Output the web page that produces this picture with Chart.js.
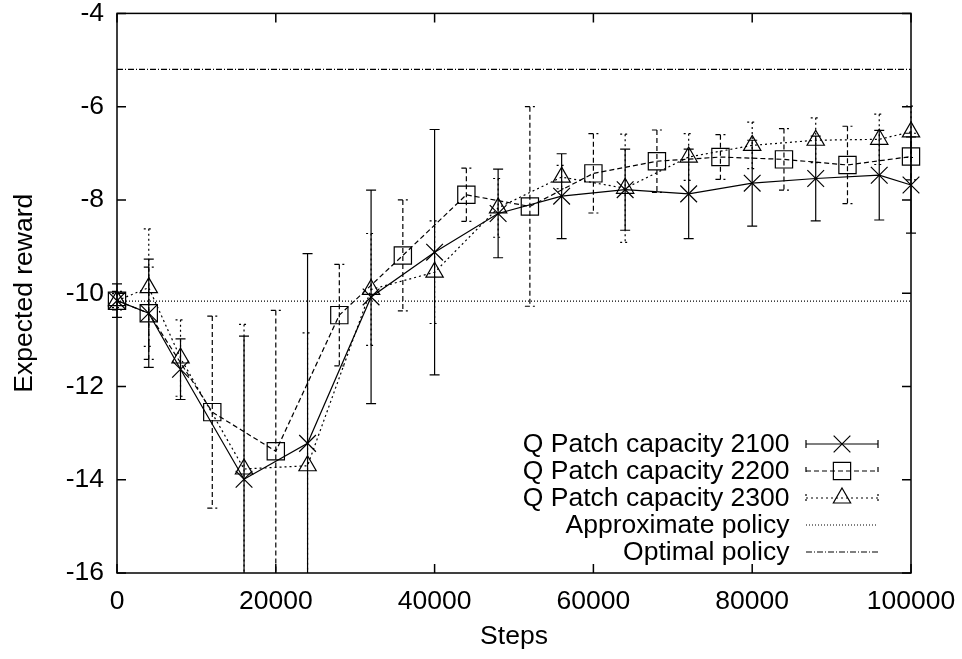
<!DOCTYPE html>
<html>
<head>
<meta charset="utf-8">
<script src="https://cdn.jsdelivr.net/npm/chart.js@4.4.0/dist/chart.umd.min.js"></script>
<style>
html, body { margin: 0; padding: 0; background: #fff; }
#wrap { width: 962px; height: 659px; }
</style>
</head>
<body>
<div id="wrap"><canvas id="c" width="962" height="659"></canvas></div>
<script>
// ---- data ----
const steps2100 = [0, 4000, 8000, 16000, 24000, 32000, 40000, 48000, 56000, 64000, 72000, 80000, 88000, 96000, 100000];
const reward2100 = [-10.16, -10.43, -11.63, -13.99, -13.22, -10.08, -9.12, -8.29, -7.92, -7.78, -7.87, -7.64, -7.54, -7.47, -7.68];
const err2100 = [0.36, 1.16, 0.65, 3.07, 4.07, 2.29, 2.63, 0.95, 0.91, 0.87, 0.96, 0.92, 0.91, 0.96, 1.03];

const steps2200 = [0, 4000, 12000, 20000, 28000, 36000, 44000, 52000, 60000, 68000, 76000, 84000, 92000, 100000];
const reward2200 = [-10.16, -10.43, -12.55, -13.39, -10.47, -9.19, -7.89, -8.14, -7.43, -7.17, -7.08, -7.13, -7.25, -7.07];
const err2200 = [0.2, 0.99, 2.06, 3.02, 1.09, 1.19, 0.57, 2.14, 0.85, 0.67, 0.48, 0.66, 0.83, 0.5];

const steps2300 = [0, 4000, 8000, 16000, 24000, 32000, 40000, 48000, 56000, 64000, 72000, 80000, 88000, 96000, 100000];
const reward2300 = [-10.16, -9.88, -11.39, -13.77, -13.70, -9.92, -9.55, -8.17, -7.51, -7.75, -7.08, -6.83, -6.72, -6.70, -6.54];
const err2300 = [0.15, 1.26, 0.82, 3.1, 2.85, 1.2, 1.1, 0.63, 0.25, 1.16, 0.5, 0.5, 0.48, 0.54, 0.55];

const approxPolicy = -10.17;
const optimalPolicy = -5.2;
const stepRange = [0, 100000];

const seriesLabels = ['Q Patch capacity 2100', 'Q Patch capacity 2200', 'Q Patch capacity 2300', 'Approximate policy', 'Optimal policy'];
const xTickValues = [0, 20000, 40000, 60000, 80000, 100000];
const yTickValues = [-16, -14, -12, -10, -8, -6, -4];
const xTitle = 'Steps';
const yTitle = 'Expected reward';

// ---- helpers ----
const FONT = '"Liberation Sans", Arial, Helvetica, sans-serif';
const FS = 26.5;
Chart.defaults.font.family = FONT;
Chart.defaults.color = '#000';

function pts(xs, ys) { return xs.map((x, i) => ({ x: x, y: ys[i] })); }

const datasets = [
  { label: seriesLabels[0], data: pts(steps2100, reward2100), errors: err2100,
    borderDash: [], pointStyle: 'crossRot', pointRadius: 11.8 },
  { label: seriesLabels[1], data: pts(steps2200, reward2200), errors: err2200,
    borderDash: [5, 3], pointStyle: 'rect', pointRadius: 12.2 },
  { label: seriesLabels[2], data: pts(steps2300, reward2300), errors: err2300,
    borderDash: [2, 3], pointStyle: 'triangle', pointRadius: 10 },
  { label: seriesLabels[3], data: pts(stepRange, [approxPolicy, approxPolicy]),
    borderDash: [1, 2], pointStyle: false, pointRadius: 0 },
  { label: seriesLabels[4], data: pts(stepRange, [optimalPolicy, optimalPolicy]),
    borderDash: [6, 2, 1, 2], pointStyle: false, pointRadius: 0 }
].map(d => Object.assign({
  borderColor: '#000', borderWidth: 1.2, backgroundColor: 'rgba(0,0,0,0)',
  pointBorderColor: '#000', pointBackgroundColor: 'rgba(0,0,0,0)', pointBorderWidth: 1.2,
  pointHoverRadius: 0, tension: 0, fill: false, clip: false
}, d));

const CAP = 5;

const errorBarPlugin = {
  id: 'errorBars',
  beforeDatasetsDraw(chart) {
    const { ctx, chartArea, scales } = chart;
    const xs = scales.x, ys = scales.y;
    ctx.save();
    ctx.beginPath();
    ctx.rect(0, chartArea.top, chart.width, chartArea.bottom - chartArea.top);
    ctx.clip();
    ctx.strokeStyle = '#000';
    ctx.lineWidth = 1.2;
    chart.data.datasets.forEach(ds => {
      if (!ds.errors) return;
      ctx.setLineDash(ds.borderDash || []);
      ds.data.forEach((p, j) => {
        const e = ds.errors[j];
        const px = xs.getPixelForValue(p.x);
        const yt = ys.getPixelForValue(p.y + e);
        const yb = ys.getPixelForValue(p.y - e);
        ctx.beginPath();
        ctx.moveTo(px, yt); ctx.lineTo(px, yb);
        ctx.moveTo(px - CAP, yt); ctx.lineTo(px + CAP, yt);
        ctx.moveTo(px - CAP, yb); ctx.lineTo(px + CAP, yb);
        ctx.stroke();
      });
    });
    ctx.restore();
  }
};

const framePlugin = {
  id: 'frame',
  afterDraw(chart) {
    const { ctx, chartArea: a, scales } = chart;
    const TL = 9;
    ctx.save();
    ctx.strokeStyle = '#000';
    ctx.lineWidth = 1.5;
    ctx.setLineDash([]);
    ctx.strokeRect(a.left, a.top, a.right - a.left, a.bottom - a.top);
    ctx.beginPath();
    scales.x.ticks.forEach(t => {
      const px = scales.x.getPixelForValue(t.value);
      ctx.moveTo(px, a.bottom); ctx.lineTo(px, a.bottom - TL);
      ctx.moveTo(px, a.top); ctx.lineTo(px, a.top + TL);
    });
    scales.y.ticks.forEach(t => {
      const py = scales.y.getPixelForValue(t.value);
      ctx.moveTo(a.left, py); ctx.lineTo(a.left + TL, py);
      ctx.moveTo(a.right, py); ctx.lineTo(a.right - TL, py);
    });
    ctx.stroke();
    ctx.restore();
  }
};

const keyPlugin = {
  id: 'gnuKey',
  afterDraw(chart) {
    const { ctx } = chart;
    const textRight = 789.5, x0 = 806, x1 = 878, xm = 842;
    const rowY0 = 444, rowH = 27;
    ctx.save();
    ctx.font = FS + 'px ' + FONT;
    ctx.fillStyle = '#000';
    ctx.strokeStyle = '#000';
    ctx.textAlign = 'right';
    ctx.textBaseline = 'middle';
    chart.data.datasets.forEach((ds, i) => {
      const y = rowY0 + i * rowH;
      ctx.setLineDash([]);
      ctx.fillText(ds.label, textRight, y + 1);
      ctx.lineWidth = 1.2;
      ctx.setLineDash(ds.borderDash || []);
      ctx.beginPath();
      ctx.moveTo(x0, y); ctx.lineTo(x1, y);
      if (ds.errors) {
        ctx.moveTo(x0, y - 4); ctx.lineTo(x0, y + 4);
        ctx.moveTo(x1, y - 4); ctx.lineTo(x1, y + 4);
      }
      ctx.stroke();
      if (ds.pointStyle) {
        ctx.setLineDash([]);
        ctx.lineWidth = 1.2;
        ctx.fillStyle = 'rgba(0,0,0,0)';
        Chart.helpers.drawPoint(ctx, { pointStyle: ds.pointStyle, radius: ds.pointRadius, borderWidth: 1.2, rotation: 0 }, xm, y);
        ctx.fillStyle = '#000';
      }
    });
    ctx.restore();
  }
};

new Chart(document.getElementById('c'), {
  type: 'line',
  data: { datasets: datasets },
  options: {
    responsive: false,
    animation: false,
    events: [],
    layout: { padding: { top: 13, right: 51, left: 0, bottom: 0 } },
    plugins: { legend: { display: false }, tooltip: { enabled: false } },
    scales: {
      x: {
        type: 'linear', min: 0, max: 100000,
        afterFit(s) { s.height = 86; s.paddingLeft = 0; s.paddingRight = 0; s.paddingTop = 0; s.paddingBottom = 0; },
        afterBuildTicks(s) { s.ticks = xTickValues.map(v => ({ value: v })); },
        grid: { display: false, drawTicks: false },
        border: { display: false },
        ticks: { padding: 15, maxRotation: 0, autoSkip: false, font: { size: FS, lineHeight: 1 },
                 callback: v => String(v) },
        title: { display: true, text: xTitle, font: { size: FS, lineHeight: 1 }, padding: { top: 0, bottom: 9 } }
      },
      y: {
        type: 'linear', min: -16, max: -4,
        afterFit(s) { s.width = 117; s.paddingLeft = 0; s.paddingRight = 0; s.paddingTop = 0; s.paddingBottom = 0; },
        afterBuildTicks(s) { s.ticks = yTickValues.map(v => ({ value: v })); },
        grid: { display: false, drawTicks: false },
        border: { display: false },
        ticks: { padding: 13, autoSkip: false, font: { size: FS, lineHeight: 1 },
                 callback: v => String(v) },
        title: { display: true, text: yTitle, font: { size: FS, lineHeight: 1 }, padding: { top: 11, bottom: 0 } }
      }
    }
  },
  plugins: [errorBarPlugin, framePlugin, keyPlugin]
});
</script>
</body>
</html>
